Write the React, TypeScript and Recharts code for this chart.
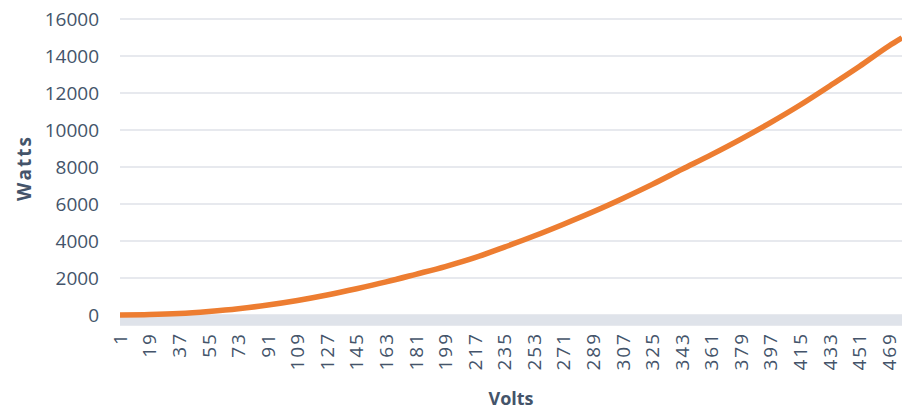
import React from "react"
import { LineChart, Line, XAxis, YAxis, CartesianGrid, ReferenceArea, Label } from "recharts"

// Volts sampled at the category labels (plus the last point at the right edge)
const volts = [1, 19, 37, 55, 73, 91, 109, 127, 145, 163, 181, 199, 217, 235, 253, 271, 289, 307, 325, 343, 361, 379, 397, 415, 433, 451, 469, 477]
const watts = [0, 25, 85, 195, 340, 540, 785, 1080, 1420, 1790, 2200, 2620, 3100, 3670, 4270, 4910, 5580, 6300, 7060, 7870, 8670, 9510, 10400, 11350, 12380, 13430, 14540, 14980]

const xTicks = [1, 19, 37, 55, 73, 91, 109, 127, 145, 163, 181, 199, 217, 235, 253, 271, 289, 307, 325, 343, 361, 379, 397, 415, 433, 451, 469]
const yTicks = [0, 2000, 4000, 6000, 8000, 10000, 12000, 14000, 16000]

const TEXT = "#44546a"
const FONT = "'Open Sans', sans-serif"

const chartData = volts.map((v, i) => ({ v, w: watts[i] }))

function VoltTick({ x, y, payload }: any) {
  const ty = y - 1
  return (
    <text
      x={x}
      y={ty}
      transform={`rotate(-90 ${x} ${ty})`}
      textAnchor="end"
      dy="0.36em"
      fill={TEXT}
      fontSize={19}
      letterSpacing={2}
      fontFamily={FONT}
    >
      {payload.value}
    </text>
  )
}

function WattsLabel({ viewBox }: any) {
  const cx = 24
  const cy = viewBox.y + viewBox.height / 2 - 4
  return (
    <text
      x={cx}
      y={cy}
      transform={`rotate(-90 ${cx} ${cy})`}
      textAnchor="middle"
      dy="0.36em"
      fill={TEXT}
      fontSize={19}
      fontWeight={700}
      letterSpacing={2}
      fontFamily={FONT}
    >
      Watts
    </text>
  )
}

export default function App() {
  return (
    <div style={{ position: "absolute", left: 0, top: 0, background: "#fff" }}>
      <LineChart width={902} height={410} data={chartData} margin={{ top: 19, right: 0, bottom: 0, left: 0 }}>
        <CartesianGrid vertical={false} stroke="#dfe2e9" strokeWidth={1.5} />
        <ReferenceArea y1={-540} y2={0} fill="#dfe3ea" fillOpacity={1} stroke="none" />
        <XAxis
          type="number"
          dataKey="v"
          domain={[1, 477]}
          ticks={xTicks}
          interval={0}
          height={85}
          axisLine={false}
          tickLine={false}
          tick={<VoltTick />}
        >
          <Label
            value="Volts"
            position="insideBottom"
            offset={5}
            fill={TEXT}
            style={{ fontSize: 18, fontWeight: 700, fontFamily: FONT }}
          />
        </XAxis>
        <YAxis
          type="number"
          domain={[-540, 16000]}
          ticks={yTicks}
          width={120}
          axisLine={false}
          tickLine={false}
          tickMargin={15}
          tick={{ fill: TEXT, fontSize: 19, fontFamily: FONT }}
        >
          <Label content={<WattsLabel />} />
        </YAxis>
        <Line
          type="monotone"
          dataKey="w"
          stroke="#ed7d31"
          strokeWidth={5.5}
          dot={false}
          isAnimationActive={false}
        />
      </LineChart>
    </div>
  )
}
